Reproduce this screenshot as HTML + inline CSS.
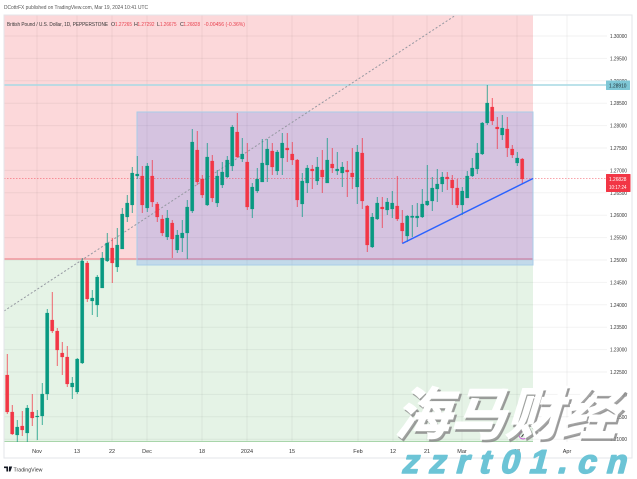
<!DOCTYPE html>
<html><head><meta charset="utf-8"><style>
html,body{margin:0;padding:0;background:#fff;width:637px;height:479px;overflow:hidden}
svg{display:block}
text{font-family:"Liberation Sans","Noto Sans CJK SC",sans-serif}
</style></head><body>
<svg width="637" height="479" viewBox="0 0 637 479" xmlns="http://www.w3.org/2000/svg">
<rect width="637" height="479" fill="#fff"/>
<!-- zones -->
<rect x="4" y="15" width="529" height="244" fill="#fcd8da"/>
<rect x="4" y="259" width="529" height="183" fill="#e5f3e6"/>
<!-- grid -->
<g stroke="rgba(0,0,0,0.05)" stroke-width="1">
<path d="M4 36H607M4 58.4H607M4 80.8H607M4 103.2H607M4 125.6H607M4 148H607M4 170.4H607M4 192.8H607M4 215.2H607M4 237.6H607M4 260H607M4 282.4H607M4 304.8H607M4 327.2H607M4 349.6H607M4 372H607M4 394.4H607M4 416.8H607M4 439.2H607"/>
<path d="M37 15V442M77 15V442M112 15V442M147 15V442M202 15V442M247 15V442M292 15V442M358 15V442M393 15V442M427 15V442M462 15V442M517 15V442M567 15V442"/>
</g>
<!-- zone borders -->
<path d="M4 259H533" stroke="#f0969d" stroke-width="1.5"/>
<path d="M4 441.5H533" stroke="#a8d5aa" stroke-width="1"/>
<!-- rectangle -->
<rect x="137" y="112" width="396" height="153" fill="rgba(41,98,255,0.18)" stroke="#a9cde8" stroke-width="1"/>
<!-- 1.28910 line -->
<path d="M4 85H606" stroke="#a6d9e4" stroke-width="1.5"/>
<!-- dashed diagonal -->
<path d="M4 311L456 15" stroke="#9598a1" stroke-width="1" stroke-dasharray="2,2" fill="none"/>
<!-- price line -->
<path d="M4 178.5H606" stroke="rgba(242,54,69,0.45)" stroke-width="1" stroke-dasharray="1.5,1.5"/>
<!-- wicks -->
<path stroke="#089981" stroke-width="1" stroke-opacity="0.75" fill="none" d="M17.3 420V442M27.3 405V442M37.3 410V440M42.3 383V425M47.3 309V400M72.3 377V399M77.3 358V394M82.3 258V364M92.3 290V315M97.3 275V317M102.3 252V288M107.3 233V262M117.3 228V272M122.3 208V249M127.3 195V222M132.3 167V213M137.3 156V179M147.3 163V212M167.3 210V240M177.3 230V253M182.3 220V252M187.3 200V259M192.3 129V213M207.3 143V206M217.3 170V207M222.3 162V188M227.3 156V178M232.3 125V171M242.3 138V162M252.3 183V218M257.3 168V193M262.3 139V182M267.3 139V182M277.3 150V175M282.3 133V175M302.3 173V217M307.3 165V193M317.3 157V185M327.3 138V183M337.3 152V175M342.3 162V187M357.3 145V204M372.3 213V248M377.3 197V220M387.3 198V215M392.3 191V218M407.3 215V242M412.3 205V237M417.3 203V227M422.3 189V218M427.3 165V206M432.3 177V211M437.3 169V202M442.3 172V192M462.3 187V215M467.3 171V198M472.3 158V177M477.3 143V174M482.3 122V155M487.3 85V125M502.3 115V140M517.3 152V166"/>
<path stroke="#f23645" stroke-width="1" stroke-opacity="0.75" fill="none" d="M7.3 354V414M12.3 405V435M22.3 411V436M32.3 394V426M52.3 292V333M57.3 328V366M62.3 342V375M67.3 346V387M87.3 261V302M112.3 238V283M142.3 166V213M152.3 160V207M157.3 202V222M162.3 215V236M172.3 220V258M197.3 131V185M202.3 175V198M212.3 155V202M237.3 113V158M247.3 143V210M272.3 143V175M287.3 133V162M292.3 142V165M297.3 159V207M312.3 165V189M322.3 150V193M332.3 148V173M347.3 161V197M352.3 148V189M362.3 138V209M367.3 205V252M382.3 197V228M397.3 176V221M402.3 210V243M447.3 172V190M452.3 175V205M457.3 179V208M492.3 98V125M497.3 117V149M507.3 117V157M512.3 145V158M522.3 158V184"/>
<!-- bodies -->
<g transform="translate(-0.1,0) ">
<path fill="#089981" stroke="#089981" stroke-width="0.2" d="M15.6 427h3.4v8h-3.4zM25.6 408h3.4v25h-3.4zM35.6 416h3.4v1h-3.4zM40.6 394h3.4v22h-3.4zM45.6 313h3.4v81h-3.4zM70.6 383h3.4v4h-3.4zM75.6 359h3.4v33h-3.4zM80.6 261h3.4v102h-3.4zM90.6 298h3.4v3h-3.4zM95.6 277h3.4v28h-3.4zM100.6 258h3.4v30h-3.4zM105.6 243h3.4v18h-3.4zM115.6 245h3.4v22h-3.4zM120.6 214h3.4v35h-3.4zM125.6 203h3.4v14h-3.4zM130.6 173h3.4v32h-3.4zM135.6 174h3.4v2h-3.4zM145.6 166h3.4v42h-3.4zM165.6 218h3.4v19h-3.4zM175.6 235h3.4v15h-3.4zM180.6 233h3.4v5h-3.4zM185.6 207h3.4v26h-3.4zM190.6 142h3.4v69h-3.4zM205.6 157h3.4v48h-3.4zM215.6 176h3.4v27h-3.4zM220.6 172h3.4v13h-3.4zM225.6 160h3.4v17h-3.4zM230.6 127h3.4v39h-3.4zM240.6 154h3.4v5h-3.4zM250.6 187h3.4v22h-3.4zM255.6 179h3.4v12h-3.4zM260.6 163h3.4v19h-3.4zM265.6 149h3.4v16h-3.4zM275.6 152h3.4v19h-3.4zM280.6 143h3.4v15h-3.4zM300.6 181h3.4v23h-3.4zM305.6 168h3.4v15h-3.4zM315.6 167h3.4v14h-3.4zM325.6 160h3.4v23h-3.4zM335.6 169h3.4v2h-3.4zM340.6 167h3.4v6h-3.4zM355.6 152h3.4v35h-3.4zM370.6 217h3.4v30h-3.4zM375.6 203h3.4v16h-3.4zM385.6 202h3.4v8h-3.4zM390.6 203h3.4v6h-3.4zM405.6 216h3.4v20h-3.4zM410.6 216h3.4v1.5h-3.4zM415.6 216h3.4v2h-3.4zM420.6 204h3.4v13h-3.4zM425.6 201h3.4v4h-3.4zM430.6 188h3.4v13h-3.4zM435.6 184h3.4v5h-3.4zM440.6 177h3.4v7h-3.4zM460.6 191h3.4v14h-3.4zM465.6 176h3.4v22h-3.4zM470.6 168h3.4v8h-3.4zM475.6 153h3.4v16h-3.4zM480.6 123h3.4v31h-3.4zM485.6 103h3.4v20h-3.4zM500.6 128h3.4v7h-3.4zM515.6 158h3.4v5h-3.4z"/>
<path fill="#f23645" stroke="#f23645" stroke-width="0.2" d="M5.6 375h3.4v37h-3.4zM10.6 412h3.4v22h-3.4zM20.6 426h3.4v4h-3.4zM30.6 412h3.4v6h-3.4zM50.6 320h3.4v11h-3.4zM55.6 331h3.4v19h-3.4zM60.6 353h3.4v4h-3.4zM65.6 357h3.4v27h-3.4zM85.6 263h3.4v36h-3.4zM110.6 248h3.4v15h-3.4zM140.6 176h3.4v29h-3.4zM150.6 176h3.4v26h-3.4zM155.6 204h3.4v13h-3.4zM160.6 219h3.4v14h-3.4zM170.6 223h3.4v16h-3.4zM195.6 150h3.4v32h-3.4zM200.6 179h3.4v16h-3.4zM210.6 161h3.4v37h-3.4zM235.6 132h3.4v25h-3.4zM245.6 162h3.4v45h-3.4zM270.6 151h3.4v16h-3.4zM285.6 148h3.4v2h-3.4zM290.6 154h3.4v6h-3.4zM295.6 160h3.4v40h-3.4zM310.6 169h3.4v2h-3.4zM320.6 170h3.4v7h-3.4zM330.6 164h3.4v4h-3.4zM345.6 170h3.4v2h-3.4zM350.6 173h3.4v4h-3.4zM360.6 153h3.4v48h-3.4zM365.6 206h3.4v39h-3.4zM380.6 207h3.4v2h-3.4zM395.6 206h3.4v13h-3.4zM400.6 223h3.4v8h-3.4zM445.6 177h3.4v2h-3.4zM450.6 180h3.4v8h-3.4zM455.6 188h3.4v17h-3.4zM490.6 107h3.4v14h-3.4zM495.6 127h3.4v2h-3.4zM505.6 129h3.4v19h-3.4zM510.6 149h3.4v6h-3.4zM520.6 159h3.4v20h-3.4z"/>
</g>
<!-- trendline -->
<path d="M402.3 243.5L533 178.5" stroke="#2962ff" stroke-width="1.5" fill="none"/>
<!-- frame -->
<rect x="4" y="15" width="628" height="443" fill="none" stroke="#e3e5ea" stroke-width="1"/>
<!-- header -->
<text x="4" y="9" font-size="5.3" fill="#555" textLength="144" lengthAdjust="spacingAndGlyphs">DCottrFX published on TradingView.com, Mar 19, 2024 10:41 UTC</text>
<g font-size="5.3" fill="#333">
<text x="7" y="26" textLength="101" lengthAdjust="spacingAndGlyphs">British Pound / U.S. Dollar, 1D, PEPPERSTONE</text>
<text x="111" y="26">O</text><text x="115" y="26" fill="#e8404e" textLength="17" lengthAdjust="spacingAndGlyphs">1.27265</text>
<text x="134" y="26">H</text><text x="137.5" y="26" fill="#e8404e" textLength="17" lengthAdjust="spacingAndGlyphs">1.27292</text>
<text x="157" y="26">L</text><text x="160" y="26" fill="#e8404e" textLength="16.5" lengthAdjust="spacingAndGlyphs">1.26675</text>
<text x="180" y="26">C</text><text x="183.5" y="26" fill="#e8404e" textLength="16.5" lengthAdjust="spacingAndGlyphs">1.26828</text>
<text x="204" y="26" fill="#e8404e" textLength="41" lengthAdjust="spacingAndGlyphs">-0.00456 (-0.36%)</text>
</g>
<!-- price axis labels -->
<g font-size="5.5" fill="#333">
<text x="610" y="38" textLength="17" lengthAdjust="spacingAndGlyphs">1.30000</text>
<text x="610" y="60.4" textLength="17" lengthAdjust="spacingAndGlyphs">1.29500</text>
<text x="610" y="82.8" textLength="17" lengthAdjust="spacingAndGlyphs">1.29000</text>
<text x="610" y="105.2" textLength="17" lengthAdjust="spacingAndGlyphs">1.28500</text>
<text x="610" y="127.6" textLength="17" lengthAdjust="spacingAndGlyphs">1.28000</text>
<text x="610" y="150" textLength="17" lengthAdjust="spacingAndGlyphs">1.27500</text>
<text x="610" y="172.4" textLength="17" lengthAdjust="spacingAndGlyphs">1.27000</text>
<text x="610" y="194.8" textLength="17" lengthAdjust="spacingAndGlyphs">1.26500</text>
<text x="610" y="217.2" textLength="17" lengthAdjust="spacingAndGlyphs">1.26000</text>
<text x="610" y="239.6" textLength="17" lengthAdjust="spacingAndGlyphs">1.25500</text>
<text x="610" y="262" textLength="17" lengthAdjust="spacingAndGlyphs">1.25000</text>
<text x="610" y="284.4" textLength="17" lengthAdjust="spacingAndGlyphs">1.24500</text>
<text x="610" y="306.8" textLength="17" lengthAdjust="spacingAndGlyphs">1.24000</text>
<text x="610" y="329.2" textLength="17" lengthAdjust="spacingAndGlyphs">1.23500</text>
<text x="610" y="351.6" textLength="17" lengthAdjust="spacingAndGlyphs">1.23000</text>
<text x="610" y="374" textLength="17" lengthAdjust="spacingAndGlyphs">1.22500</text>
<text x="610" y="396.4" textLength="17" lengthAdjust="spacingAndGlyphs">1.22000</text>
<text x="610" y="418.8" textLength="17" lengthAdjust="spacingAndGlyphs">1.21500</text>
<text x="610" y="441.2" textLength="17" lengthAdjust="spacingAndGlyphs">1.21000</text>
</g>
<!-- price boxes -->
<rect x="606" y="80.5" width="24" height="9.5" fill="#7ec7d6" rx="0.5"/>
<text x="609" y="87.3" font-size="5.5" fill="#1a2a30" textLength="17.5" lengthAdjust="spacingAndGlyphs">1.28910</text>
<rect x="606" y="174" width="24.5" height="18" fill="#f23645" rx="0.5"/>
<text x="609" y="181" font-size="5.5" fill="#fff" textLength="17.5" lengthAdjust="spacingAndGlyphs">1.26828</text>
<text x="609" y="189" font-size="5.5" fill="#fff" textLength="17.5" lengthAdjust="spacingAndGlyphs">10:17:24</text>
<!-- time axis -->
<g font-size="5.5" fill="#333" text-anchor="middle">
<text x="37" y="453">Nov</text>
<text x="77" y="453">13</text>
<text x="112" y="453">22</text>
<text x="147" y="453">Dec</text>
<text x="202" y="453">18</text>
<text x="247" y="453">2024</text>
<text x="292" y="453">15</text>
<text x="358" y="453">Feb</text>
<text x="393" y="453">12</text>
<text x="427" y="453">21</text>
<text x="462" y="453">Mar</text>
<text x="517" y="453">18</text>
<text x="567" y="453">Apr</text>
</g>
<!-- TradingView logo -->
<path d="M4 466.5h4v5h-1.6v-3.4H4zM9 466.5h3.2l-1.8 5H8.8z" fill="#131722"/>
<text x="13.5" y="471.3" font-size="5.6" fill="#333" textLength="29" lengthAdjust="spacingAndGlyphs">TradingView</text>
<!-- small marker -->
<circle cx="523" cy="435" r="4" fill="none" stroke="#c44fd0" stroke-width="0.9"/>
<path d="M521.5 437L524.5 433" stroke="#333" stroke-width="1"/>
<!-- watermark -->
<g transform="translate(394,434) skewX(-17)">
<text x="2.5" y="2.5" font-size="56" font-weight="bold" fill="#8f8f8f" fill-opacity="0.8" stroke="#8f8f8f" stroke-opacity="0.8" stroke-width="1.5" font-family="'Noto Sans CJK SC','WenQuanYi Zen Hei',sans-serif" textLength="222" lengthAdjust="spacingAndGlyphs">海马财经</text>
<text x="0" y="0" font-size="56" font-weight="bold" fill="#ffffff" stroke="#ffffff" stroke-width="1.2" font-family="'Noto Sans CJK SC','WenQuanYi Zen Hei',sans-serif" textLength="222" lengthAdjust="spacingAndGlyphs">海马财经</text>
</g>
<g transform="translate(401,473) skewX(-15)">
<text x="0" y="0" font-size="33" font-weight="bold" fill="#6cc4d6" stroke="#6cc4d6" stroke-width="1.6" stroke-linejoin="round" font-family="'Liberation Sans',sans-serif" textLength="224" lengthAdjust="spacing">zzrt01.cn</text>
</g>
</svg>
</body></html>
